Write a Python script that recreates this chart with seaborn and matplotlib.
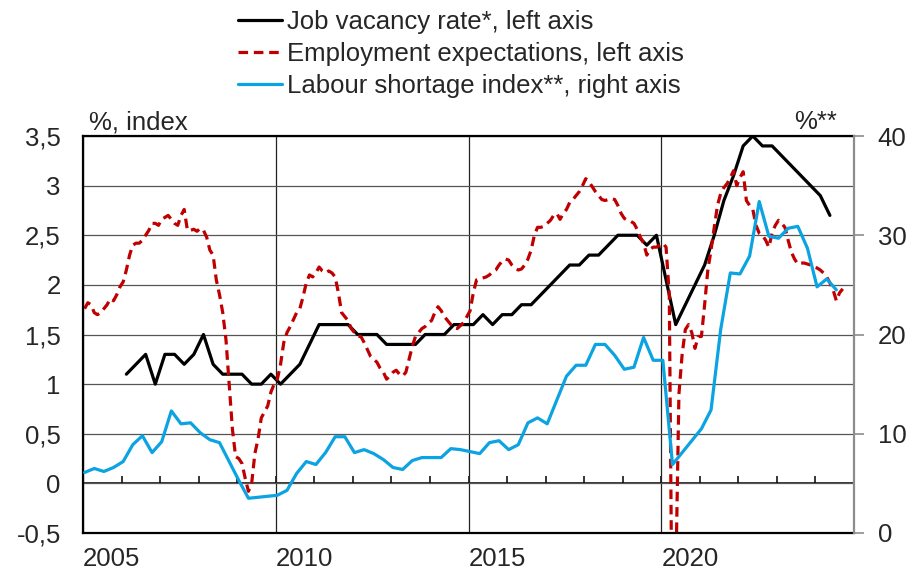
import numpy as np
import pandas as pd
import matplotlib
matplotlib.use("Agg")
import matplotlib.pyplot as plt
import seaborn as sns

# ---- data ----

# Job vacancy rate*, %, quarterly 2006Q1 - 2024Q2, left axis
vacancy_start = 2006
vacancy_rate = [
    1.1, 1.2, 1.3, 1.0,     # 2006
    1.3, 1.3, 1.2, 1.3,     # 2007
    1.5, 1.2, 1.1, 1.1,     # 2008
    1.1, 1.0, 1.0, 1.1,     # 2009
    1.0, 1.1, 1.2, 1.4,     # 2010
    1.6, 1.6, 1.6, 1.6,     # 2011
    1.5, 1.5, 1.5, 1.4,     # 2012
    1.4, 1.4, 1.4, 1.5,     # 2013
    1.5, 1.5, 1.6, 1.6,     # 2014
    1.6, 1.7, 1.6, 1.7,     # 2015
    1.7, 1.8, 1.8, 1.9,     # 2016
    2.0, 2.1, 2.2, 2.2,     # 2017
    2.3, 2.3, 2.4, 2.5,     # 2018
    2.5, 2.5, 2.4, 2.5,     # 2019
    2.05, 1.6, 1.8, 2.0,    # 2020
    2.2, 2.5, 2.85, 3.1,    # 2021
    3.4, 3.5, 3.4, 3.4,     # 2022
    3.3, 3.2, 3.1, 3.0,     # 2023
    2.9, 2.7,               # 2024
]

# Employment expectations, monthly 2005-01 - 2024-09, left axis
expect_start = 2005
expectations = [
    1.76, 1.82, 1.80, 1.72, 1.70, 1.72, 1.76, 1.80, 1.86, 1.84, 1.90, 1.98,  # 2005
    2.03, 2.15, 2.30, 2.40, 2.42, 2.42, 2.45, 2.50, 2.55, 2.62, 2.62, 2.60,  # 2006
    2.66, 2.68, 2.70, 2.66, 2.62, 2.60, 2.70, 2.76, 2.55, 2.55, 2.56, 2.54,  # 2007
    2.57, 2.55, 2.48, 2.35, 2.30, 2.05, 1.90, 1.72, 1.45, 1.00, 0.55, 0.27,  # 2008
    0.25, 0.20, 0.05, -0.08, 0.00, 0.30, 0.45, 0.66, 0.72, 0.78, 0.92, 1.00,  # 2009
    1.05, 1.20, 1.42, 1.52, 1.58, 1.65, 1.72, 1.76, 1.88, 2.02, 2.10, 2.08,  # 2010
    2.12, 2.18, 2.14, 2.12, 2.14, 2.12, 2.08, 1.92, 1.72, 1.68, 1.64, 1.56,  # 2011
    1.52, 1.48, 1.48, 1.42, 1.35, 1.28, 1.25, 1.22, 1.16, 1.12, 1.05, 1.08,  # 2012
    1.12, 1.14, 1.10, 1.08, 1.12, 1.25, 1.38, 1.48, 1.52, 1.56, 1.58, 1.62,  # 2013
    1.64, 1.72, 1.78, 1.74, 1.68, 1.64, 1.60, 1.57, 1.56, 1.59, 1.62, 1.68,  # 2014
    1.74, 1.92, 2.05, 2.06, 2.07, 2.08, 2.10, 2.13, 2.15, 2.20, 2.24, 2.26,  # 2015
    2.25, 2.20, 2.17, 2.15, 2.16, 2.20, 2.26, 2.35, 2.50, 2.58, 2.58, 2.59,  # 2016
    2.62, 2.65, 2.70, 2.72, 2.66, 2.72, 2.76, 2.83, 2.86, 2.90, 2.94, 3.00,  # 2017
    3.07, 3.04, 2.99, 2.94, 2.90, 2.86, 2.85, 2.86, 2.87, 2.86, 2.80, 2.72,  # 2018
    2.67, 2.65, 2.64, 2.62, 2.56, 2.48, 2.42, 2.30, 2.36, 2.38, 2.38, 2.40,  # 2019
    2.42, 2.38, 1.90, -2.00, -1.00, 0.90, 1.30, 1.55, 1.60, 1.52, 1.36, 1.48,  # 2020
    1.48, 1.80, 2.15, 2.35, 2.58, 2.80, 2.92, 2.98, 3.02, 3.08, 3.15, 3.00,  # 2021
    3.08, 3.14, 2.85, 2.80, 2.76, 2.60, 2.52, 2.50, 2.45, 2.38, 2.52, 2.60,  # 2022
    2.65, 2.62, 2.58, 2.45, 2.33, 2.26, 2.21, 2.22, 2.22, 2.21, 2.20, 2.18,  # 2023
    2.17, 2.15, 2.12, 2.08, 2.02, 1.95, 1.84, 1.92, 1.96,                    # 2024
]

# Labour shortage index**, %, quarterly 2005Q1 - 2024Q3, right axis
shortage_start = 2005
shortage_index = [
    6.1, 6.5, 6.2, 6.6,      # 2005
    7.2, 8.9, 9.8, 8.1,      # 2006
    9.2, 12.3, 11.0, 11.1,   # 2007
    10.1, 9.4, 9.1, 7.2,     # 2008
    5.3, 3.5, 3.6, 3.7,      # 2009
    3.8, 4.3, 6.0, 7.2,      # 2010
    6.9, 8.1, 9.7, 9.7,      # 2011
    8.1, 8.4, 8.0, 7.4,      # 2012
    6.6, 6.4, 7.3, 7.6,      # 2013
    7.6, 7.6, 8.5, 8.4,      # 2014
    8.2, 8.0, 9.1, 9.3,      # 2015
    8.4, 8.9, 11.1, 11.6,    # 2016
    11.0, 13.4, 15.8, 16.9,  # 2017
    16.9, 19.0, 19.0, 17.9,  # 2018
    16.5, 16.7, 19.7, 17.4,  # 2019
    17.4, 6.9, 8.1, 9.3,     # 2020
    10.5, 12.4, 20.5, 26.2,  # 2021
    26.1, 27.9, 33.4, 29.9,  # 2022
    29.7, 30.7, 30.9, 28.7,  # 2023
    24.8, 25.6, 24.5,        # 2024
]

legend_labels = [
    "Job vacancy rate*, left axis",
    "Employment expectations, left axis",
    "Labour shortage index**, right axis",
]
left_ticks = [-0.5, 0, 0.5, 1, 1.5, 2, 2.5, 3, 3.5]
left_ticklabels = ["-0,5", "0", "0,5", "1", "1,5", "2", "2,5", "3", "3,5"]
right_ticks = [0, 10, 20, 30, 40]
year_ticks = [2005, 2010, 2015, 2020]

# decimal-year positions (mid-month)
vac_x = vacancy_start + (np.arange(len(vacancy_rate)) * 3 + 1.5) / 12
exp_x = expect_start + (np.arange(len(expectations)) + 0.5) / 12
short_x = shortage_start + (np.arange(len(shortage_index)) * 3 + 0.5) / 12

df_vac = pd.DataFrame({"x": vac_x, "y": vacancy_rate})
df_exp = pd.DataFrame({"x": exp_x, "y": expectations})
df_short = pd.DataFrame({"x": short_x, "y": shortage_index})

# ---- style ----
sns.set_style("white")
plt.rcParams["font.family"] = ["Liberation Sans", "DejaVu Sans"]
FS = 18.5

BLACK = "#000000"
RED = "#C00000"
BLUE = "#0BA3E2"

fig = plt.figure(figsize=(9.09, 5.77), dpi=100)
ax = fig.add_axes([83 / 909, 1 - 533 / 577, 771 / 909, 397 / 577])
ax2 = ax.twinx()

sns.lineplot(data=df_vac, x="x", y="y", ax=ax, color=BLACK, lw=2.3, legend=False)
sns.lineplot(data=df_exp, x="x", y="y", ax=ax, color=RED, lw=2.3,
             linestyle=(0, (3, 1.8)), legend=False)
sns.lineplot(data=df_short, x="x", y="y", ax=ax2, color=BLUE, lw=2.3, legend=False)

ax.set_xlim(2005, 2025)
ax.set_ylim(-0.5, 3.5)
ax2.set_ylim(0, 40)

# left axis
ax.set_yticks(left_ticks)
ax.set_yticklabels(left_ticklabels, fontsize=FS)
ax.tick_params(axis="y", length=0, pad=16)
ax.set_xlabel("")
ax.set_ylabel("")

# x axis: labels at the bottom, left-aligned on the year
ax.set_xticks(year_ticks)
ax.set_xticklabels([str(y) for y in year_ticks], fontsize=FS, ha="left")
ax.tick_params(axis="x", length=0, pad=10)

# grid
ax.grid(True, axis="y", color="#555555", lw=0.9)
ax.grid(True, axis="x", color="#222222", lw=0.9)
ax.set_axisbelow(True)

# year tick marks sitting on the zero line
zero_axis = ax.secondary_xaxis((0 - (-0.5)) / 4.0)
zero_axis.set_xticks(np.arange(2005, 2026, 1))
zero_axis.tick_params(axis="x", direction="in", length=5, width=1.1,
                      color=BLACK, labelbottom=False)
zero_axis.spines["bottom"].set_color(BLACK)
zero_axis.spines["bottom"].set_linewidth(1.1)

# right axis
ax2.set_yticks(right_ticks)
ax2.set_yticklabels([str(v) for v in right_ticks], fontsize=FS)
ax2.tick_params(axis="y", length=7, width=1.2, color="#8c8c8c", pad=10)
ax2.set_ylabel("")

for name in ["left", "top", "bottom"]:
    ax.spines[name].set_color(BLACK)
    ax.spines[name].set_linewidth(1.6)
    ax2.spines[name].set_visible(False)
ax.spines["right"].set_visible(False)
ax2.spines["right"].set_color("#8c8c8c")
ax2.spines["right"].set_linewidth(1.6)

# axis unit notes
ax.text(0.008, 1.005, "%, index", transform=ax.transAxes, ha="left", va="bottom",
        fontsize=FS)
ax.text(0.978, 1.005, "%**", transform=ax.transAxes, ha="right", va="bottom",
        fontsize=FS)

# legend
handles = [ax.lines[0], ax.lines[1], ax2.lines[0]]
fig.legend(handles, legend_labels, loc="upper left",
           bbox_to_anchor=(238 / 909, 1 - 10 / 577), frameon=False, fontsize=FS,
           handlelength=1.7, handletextpad=0.22, labelspacing=0.32,
           borderpad=0, borderaxespad=0)

plt.savefig("out.png", dpi=100)
plt.close()
